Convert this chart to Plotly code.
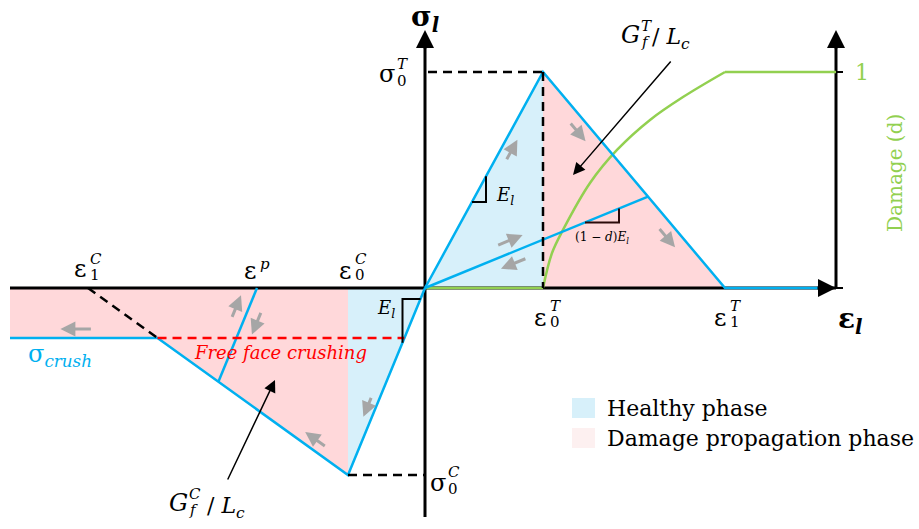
import math
import plotly.graph_objects as go

# ---------------- schematic constitutive-law values (plot units) ----------------
EPS0_T, SIG0_T, EPS1_T = 118, 216, 300      # tension: peak strain, peak stress, ultimate strain
EPS0_C, SIG0_C, EPS1_C = -77, -187, -337    # compression: peak strain, peak stress, ultimate strain
SIG_CRUSH = -50                             # free-face crushing plateau stress
EPS_P = -168                                # plastic strain for compression unloading
EPS_UNLOAD_T = 223                          # strain where tension unloading starts
EPS_MIN, EPS_MAX = -415, 411                # strain-axis extent
SIG_TOP, SIG_BOTTOM = 258, -229             # stress-axis extent

# damage evolution d(eps) between eps0_T and eps1_T
DAMAGE_EPS = [118, 127, 138, 165, 192, 225, 258, 300]
DAMAGE_D = [0.0, 0.162, 0.269, 0.486, 0.639, 0.778, 0.884, 1.0]

LEGEND_LABELS = ["Healthy phase", "Damage propagation phase"]

# ---------------- styles ----------------
BLUE, GREEN, RED, GRAY = "#00b0f0", "#92d050", "#ff0000", "#a6a6a6"
FILL_BLUE, FILL_PINK, LEG_PINK = "#d7f0fa", "#ffd8da", "#fdf0f0"
FONT = "DejaVu Serif"

# ---------------- derived geometry ----------------
E_T = SIG0_T / EPS0_T
E_C = SIG0_C / EPS0_C
S_C = SIG0_C / (EPS0_C - EPS1_C)


def soft_t(e):
    return SIG0_T * (EPS1_T - e) / (EPS1_T - EPS0_T)


X_CR = EPS1_C + SIG_CRUSH / S_C                     # crushing corner
SIG_UT = soft_t(EPS_UNLOAD_T)                       # tension unloading point
X_UC = (E_C * EPS_P - S_C * EPS1_C) / (E_C - S_C)   # compression unloading point
Y_UC = E_C * (X_UC - EPS_P)
X_RED = SIG_CRUSH / E_C                             # end of free-face crushing line

fig = go.Figure()


def line(xs, ys, color, width, dash=None, shape="linear"):
    fig.add_trace(go.Scatter(
        x=xs, y=ys, mode="lines",
        line=dict(color=color, width=width, dash=dash, shape=shape),
        hoverinfo="skip", showlegend=False))


def area(xs, ys, color):
    fig.add_trace(go.Scatter(x=xs, y=ys, mode="lines", fill="toself", fillcolor=color,
                             line=dict(width=0, color=color), hoverinfo="skip", showlegend=False))


# fills
area([EPS0_T, EPS0_T, EPS1_T], [0, SIG0_T, 0], FILL_PINK)
area([0, EPS0_T, EPS0_T], [0, SIG0_T, 0], FILL_BLUE)
area([EPS_MIN, EPS0_C, EPS0_C, X_CR, EPS_MIN], [0, 0, SIG0_C, SIG_CRUSH, SIG_CRUSH], FILL_PINK)
area([EPS0_C, 0, EPS0_C], [0, 0, SIG0_C], FILL_BLUE)

# axes
line([EPS_MIN, EPS_MAX], [0, 0], "black", 3)
line([0, 0], [SIG_BOTTOM, SIG_TOP - 8], "black", 3)
line([EPS_MAX, EPS_MAX], [0, SIG_TOP - 8], "black", 3)
line([EPS_MAX, EPS_MAX + 7], [0, 0], "black", 2)
line([EPS_MAX, EPS_MAX + 7], [SIG0_T, SIG0_T], "black", 2)

# damage curve
line([0, EPS0_T], [0, 0], GREEN, 2.5)
line(DAMAGE_EPS, [d * SIG0_T for d in DAMAGE_D], GREEN, 2.5, shape="spline")
line([EPS1_T, EPS_MAX], [SIG0_T, SIG0_T], GREEN, 2.5)

# stress-strain law (blue)
line([0, EPS0_T, EPS1_T, EPS_MAX - 6], [0, SIG0_T, 0, 0], BLUE, 2.5)
line([0, EPS_UNLOAD_T], [0, SIG_UT], BLUE, 2.5)
line([0, EPS0_C, X_CR, EPS_MIN], [0, SIG0_C, SIG_CRUSH, SIG_CRUSH], BLUE, 2.5)
line([EPS_P, X_UC], [0, Y_UC], BLUE, 2.5)

# dashed guides
DASH = "9px,6px"
line([3, EPS0_T], [SIG0_T, SIG0_T], "black", 2.5, dash=DASH)
line([EPS0_T, EPS0_T], [SIG0_T, 0], "black", 2.5, dash=DASH)
line([EPS0_C, 0], [SIG0_C, SIG0_C], "black", 2.5, dash=DASH)
line([EPS1_C, X_CR], [0, SIG_CRUSH], "black", 2.5, dash=DASH)
line([X_CR, X_RED], [SIG_CRUSH, SIG_CRUSH], RED, 2.5, dash=DASH)

# slope brackets
a = 47
line([a, a + 14, a + 14], [E_T * a, E_T * a, E_T * (a + 14)], "black", 2)
b = -4.5
line([b, b - 18, b - 18], [E_C * b, E_C * b, E_C * (b - 18)], "black", 2)
k = SIG_UT / EPS_UNLOAD_T
c = 160
line([c, c + 34, c + 34], [k * c, k * c, k * (c + 34)], "#2b0a0a", 2)


def arrow(head, tail, color, width, head_style=2, size=1.0):
    fig.add_annotation(x=head[0], y=head[1], ax=tail[0], ay=tail[1], xref="x", yref="y",
                       axref="x", ayref="y", text="", showarrow=True, arrowhead=head_style,
                       arrowsize=size, arrowwidth=width, arrowcolor=color, standoff=0)


def seg_arrow(p0, p1, t, d, length, reverse=False):
    dx, dy = p1[0] - p0[0], p1[1] - p0[1]
    L = math.hypot(dx, dy)
    ux, uy = dx / L, dy / L
    nx, ny = -uy, ux
    cx, cy = p0[0] + t * dx + d * nx, p0[1] + t * dy + d * ny
    if reverse:
        ux, uy = -ux, -uy
    tail = (cx - ux * length / 2, cy - uy * length / 2)
    head = (cx + ux * length / 2, cy + uy * length / 2)
    arrow(head, tail, GRAY, 3, 2, 1.0)


O = (0, 0)
PT, UT = (EPS0_T, SIG0_T), (EPS_UNLOAD_T, SIG_UT)
ET1 = (EPS1_T, 0)
PC, CR = (EPS0_C, SIG0_C), (X_CR, SIG_CRUSH)
seg_arrow(O, PT, 0.66, -10, 24)
seg_arrow(PT, ET1, 0.24, -12, 25)
seg_arrow(PT, ET1, 0.73, -12, 26)
seg_arrow(O, UT, 0.40, 12, 28)
seg_arrow(O, UT, 0.38, -11, 28, reverse=True)
seg_arrow(CR, (EPS_MIN, SIG_CRUSH), 0.55, -9, 32)
seg_arrow((EPS_P, 0), (X_UC, Y_UC), 0.25, -12, 25, reverse=True)
seg_arrow((EPS_P, 0), (X_UC, Y_UC), 0.32, 13, 25)
seg_arrow(PC, CR, 0.20, -10, 26)
seg_arrow(O, PC, 0.65, -8, 22)

# axis arrowheads
arrow((0, SIG_TOP), (0, SIG_TOP - 20), "black", 3, 2, 1.2)
arrow((EPS_MAX, SIG_TOP), (EPS_MAX, SIG_TOP - 20), "black", 3, 2, 1.2)
arrow((EPS_MAX, 0), (EPS_MAX - 20, 0), "black", 3, 2, 1.2)

# fracture-energy pointers
GT_TAIL, GT_HEAD = (247, 228), (148, 113)
GC_TAIL, GC_HEAD = (-198, -193), (-150, -92)
arrow(GT_HEAD, GT_TAIL, "black", 1.5, 2, 1.6)
arrow(GC_HEAD, GC_TAIL, "black", 1.5, 2, 1.6)


def txt(x, y, text, size, color="black", xs=0, ys=0, xanchor="center", angle=0):
    fig.add_annotation(x=x, y=y, text=text, showarrow=False, xshift=xs, yshift=ys,
                       xanchor=xanchor, yanchor="middle", textangle=angle,
                       xref="x", yref="y", font=dict(family=FONT, size=size, color=color))


def mlabel(x, y, base, sup=None, sub=None, xs=0, ys=0, size=24, ss=15, color="black",
           dx=8, up=10, down=7):
    txt(x, y, base, size, color, xs, ys)
    if sup:
        txt(x, y, sup, ss, color, xs + dx, ys + up, xanchor="left")
    if sub:
        txt(x, y, sub, ss, color, xs + dx, ys - down, xanchor="left")


mlabel(0, SIG0_T, "σ", "<i>T</i>", "0", xs=-38, ys=-2)
mlabel(EPS0_T, 0, "ε", "<i>T</i>", "0", xs=-3, ys=-30, up=12, down=4)
mlabel(EPS1_T, 0, "ε", "<i>T</i>", "1", xs=-5, ys=-30, up=12, down=4)
mlabel(EPS1_C, 0, "ε", "<i>C</i>", "1", xs=-8, ys=19, up=10, down=6)
mlabel(EPS_P, 0, "ε", "<i>p</i>", None, xs=-7, ys=17, up=7)
mlabel(EPS0_C, 0, "ε", "<i>C</i>", "0", xs=-3, ys=17, up=12, down=4)
mlabel(0, SIG0_C, "σ", "<i>C</i>", "0", xs=13, ys=-8, up=11, down=6)
txt(0, SIG_TOP, "<b>σ<sub><i>l</i></sub></b>", 28, xs=0, ys=12)
txt(EPS_MAX, 0, "<b>ε<sub><i>l</i></sub></b>", 28, xs=14, ys=-32)
txt(EPS_MIN, SIG_CRUSH, "σ<sub><i>crush</i></sub>", 24, BLUE, xs=16, ys=-17, xanchor="left")
txt((X_CR + X_RED) / 2, SIG_CRUSH, "<i>Free face crushing</i>", 18, RED, ys=-14)
txt(a + 14, E_T * a, "<i>E</i><sub><i>l</i></sub>", 18, xs=8, ys=6, xanchor="left")
txt(b - 18, E_C * b, "<i>E</i><sub><i>l</i></sub>", 18, xs=-28, ys=-10, xanchor="left")
txt(c + 17, k * c, "(1 − <i>d</i>)<i>E</i><sub><i>l</i></sub>", 12, ys=-16)
mlabel(GT_TAIL[0], GT_TAIL[1], "<i>G</i>", "<i>T</i>", "<i>f</i>", xs=-42, ys=25, size=24, up=9, down=7, dx=9)
txt(GT_TAIL[0], GT_TAIL[1], "/ <i>L</i><sub><i>c</i></sub>", 22, xs=-22, ys=22, xanchor="left")
mlabel(GC_TAIL[0], GC_TAIL[1], "<i>G</i>", "<i>C</i>", "<i>f</i>", xs=-49, ys=-22, size=24, up=9, down=7, dx=9)
txt(GC_TAIL[0], GC_TAIL[1], "/ <i>L</i><sub><i>c</i></sub>", 22, xs=-22, ys=-26, xanchor="left")
txt(EPS_MAX, SIG0_T, "1", 22, GREEN, xs=26)
txt(EPS_MAX, SIG0_T, "Damage (d)", 20, GREEN, xs=59, ys=-101, angle=-90)

# legend swatches
for i, (lab, col) in enumerate(zip(LEGEND_LABELS, [FILL_BLUE, LEG_PINK])):
    y0 = -110 - 30 * i
    fig.add_shape(type="rect", xref="x", yref="y", x0=147, x1=170, y0=y0, y1=y0 - 20,
                  fillcolor=col, line=dict(width=0))
    txt(180, y0 - 10, lab, 22, xanchor="left")

fig.update_layout(
    width=919, height=529, autosize=False,
    margin=dict(l=0, r=0, t=0, b=0),
    paper_bgcolor="white", plot_bgcolor="white",
    xaxis=dict(range=[-425, 494], visible=False, fixedrange=True),
    yaxis=dict(range=[-241, 288], visible=False, fixedrange=True),
    showlegend=False,
)
fig.write_html("out.html", config={"displayModeBar": False},
               post_script="document.body.style.margin='0px';")
